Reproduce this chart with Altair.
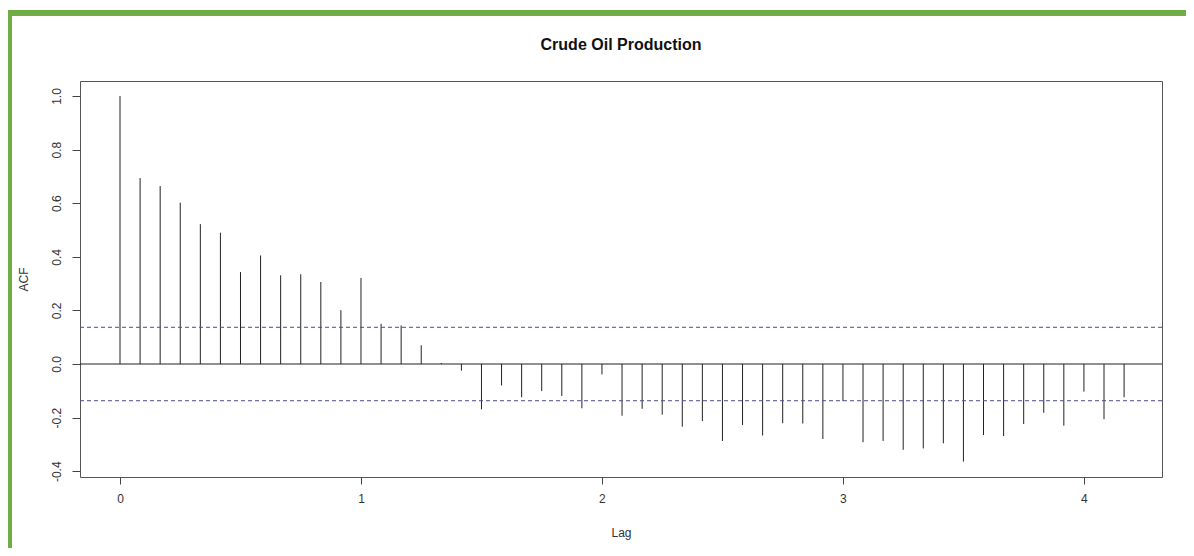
import altair as alt
import pandas as pd

# ---- data ----
lag_index = list(range(51))          # lag in months
frequency = 12                       # lag axis is in years
acf_values = [
    1.000, 0.694, 0.664, 0.602, 0.522, 0.490, 0.343, 0.405, 0.331, 0.335, 0.306,
    0.201, 0.321, 0.150, 0.144, 0.070, 0.004, -0.025, -0.169, -0.080, -0.124,
    -0.101, -0.119, -0.165, -0.039, -0.193, -0.167, -0.189, -0.234, -0.213, -0.287,
    -0.228, -0.267, -0.221, -0.222, -0.280, -0.138, -0.292, -0.287, -0.320, -0.315,
    -0.296, -0.364, -0.265, -0.269, -0.224, -0.182, -0.230, -0.103, -0.206, -0.124,
]
conf_limits = [0.137, -0.137]
zero_line = [0.0]
x_ticks = [0, 1, 2, 3, 4]
y_ticks = [-0.4, -0.2, 0.0, 0.2, 0.4, 0.6, 0.8, 1.0]
title_text = "Crude Oil Production"
x_title = "Lag"
y_title = "ACF"

df = pd.DataFrame({"Lag": [k / frequency for k in lag_index], "ACF": acf_values})
conf_df = pd.DataFrame({"ACF": conf_limits})
zero_df = pd.DataFrame({"ACF": zero_line})
one_df = pd.DataFrame({"k": [0]})

W, H = 1082, 396
PAD = {"left": 72, "top": 73, "right": 24, "bottom": 71}
FONT = "Liberation Sans"
GREEN = "#70AD47"

x_scale = alt.Scale(domain=[-0.166, 4.324], nice=False, zero=False)
y_scale = alt.Scale(domain=[-0.4216, 1.056], nice=False, zero=False)

x_axis = alt.Axis(
    values=x_ticks, title=x_title, format="d", grid=False, domain=False,
    tickSize=7, tickColor="#444", labelPadding=9, titlePadding=23,
    labelFontSize=12, titleFontSize=12, labelFont=FONT, titleFont=FONT,
    labelColor="#333", titleColor="#333", titleFontWeight="normal",
)
y_axis = alt.Axis(
    values=y_ticks, title=y_title, grid=False, domain=False,
    labelExpr="datum.value < 0 ? '-' + format(-datum.value, '.1f') : format(datum.value, '.1f')",
    labelAngle=-90, tickSize=8, tickColor="#444", labelPadding=9, titlePadding=20,
    labelFontSize=12, titleFontSize=12, labelFont=FONT, titleFont=FONT,
    labelColor="#333", titleColor="#333", titleFontWeight="normal",
)

spikes = alt.Chart(df).mark_rule(color="#222", strokeWidth=1).encode(
    x=alt.X("Lag:Q", scale=x_scale, axis=x_axis),
    y=alt.Y("ACF:Q", scale=y_scale, axis=y_axis),
    y2=alt.datum(0.0),
)

zero = alt.Chart(zero_df).mark_rule(color="#222", strokeWidth=1).encode(
    y=alt.Y("ACF:Q", scale=y_scale, axis=y_axis),
    x=alt.value(0), x2=alt.value(W),
)

conf = alt.Chart(conf_df).mark_rule(
    color="#4b4b8f", strokeWidth=1, strokeDash=[4, 3]
).encode(
    y=alt.Y("ACF:Q", scale=y_scale, axis=y_axis),
    x=alt.value(0), x2=alt.value(W),
)

title = alt.Chart(one_df).mark_text(
    font=FONT, fontSize=16, fontWeight="bold", color="#111",
    align="center", baseline="middle",
).encode(x=alt.value(W / 2), y=alt.value(-36), text=alt.value(title_text))

border_top = alt.Chart(one_df).mark_rect(color=GREEN).encode(
    x=alt.value(-PAD["left"]), x2=alt.value(W + PAD["right"]),
    y=alt.value(-71), y2=alt.value(-65),
)
border_left = alt.Chart(one_df).mark_rect(color=GREEN).encode(
    x=alt.value(-PAD["left"]), x2=alt.value(-PAD["left"] + 4),
    y=alt.value(-71), y2=alt.value(H + PAD["bottom"]),
)

chart = alt.layer(
    spikes, zero, conf, border_top, border_left, title
).properties(
    width=W, height=H, padding=PAD,
    autosize=alt.AutoSizeParams(type="none"),
    background="white",
).configure_view(
    stroke="#555", strokeWidth=1
)

chart.save("out.html", embed_options={"renderer": "svg", "actions": False})
